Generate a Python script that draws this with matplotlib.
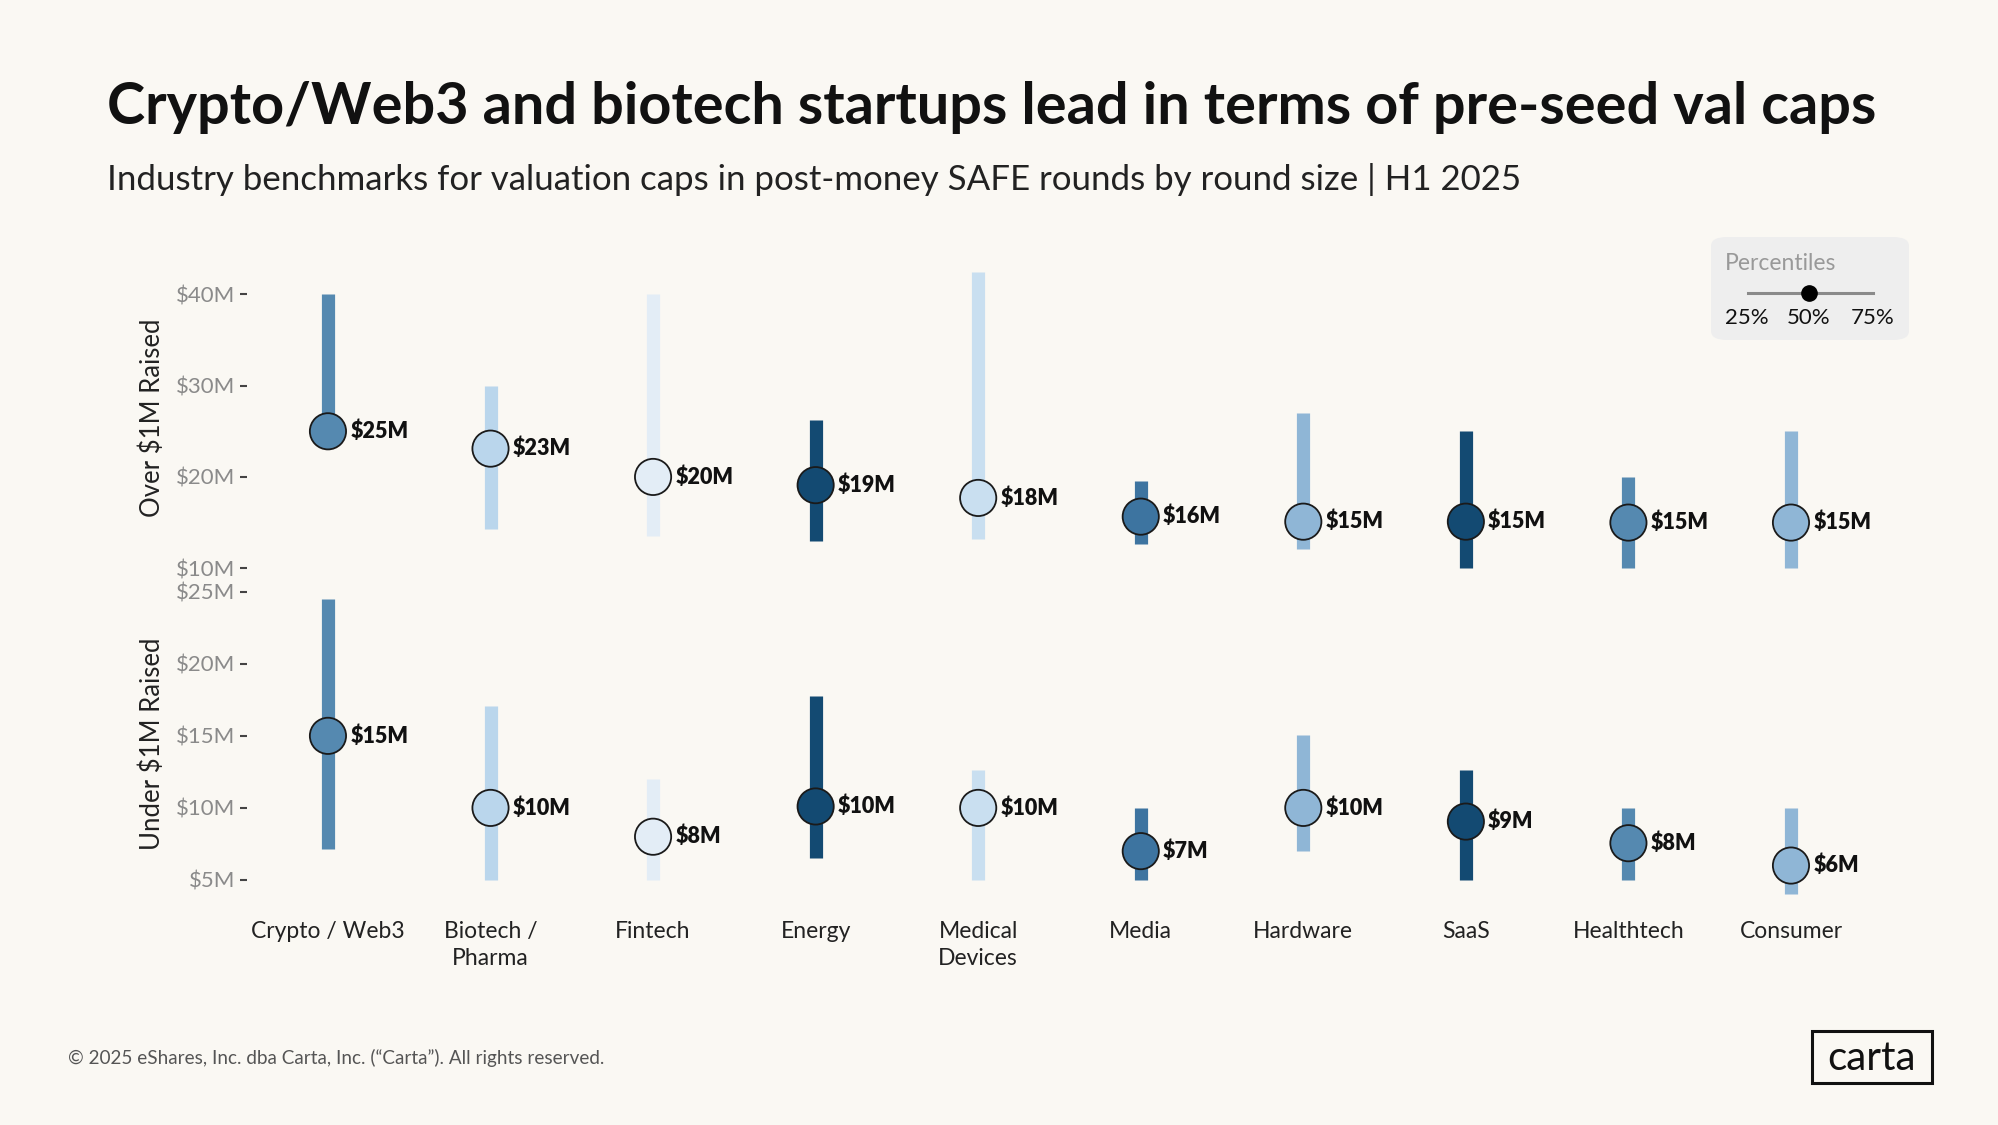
import matplotlib
matplotlib.use("Agg")
import matplotlib.pyplot as plt
from matplotlib.patches import FancyBboxPatch, Rectangle

# данные (в миллионах $): 25-й, 50-й, 75-й перцентили
industries = ["Crypto / Web3", "Biotech /\nPharma", "Fintech", "Energy", "Medical\nDevices",
              "Media", "Hardware", "SaaS", "Healthtech", "Consumer"]

over_p25 = [25, 14.3, 13.5, 13.0, 13.2, 12.6, 12.1, 10, 10, 10]
over_p50 = [25, 23.1, 20, 19.1, 17.7, 15.65, 15.1, 15.1, 15, 15]
over_p75 = [40, 30, 40, 26.2, 42.5, 19.6, 27.0, 25, 20, 25]

under_p25 = [7.15, 5, 5, 6.55, 5, 5, 7.0, 5, 5, 4.0]
under_p50 = [15, 10, 8, 10.1, 10, 7.0, 10, 9.05, 7.55, 6.0]
under_p75 = [24.5, 17.1, 12, 17.8, 12.6, 10, 15.07, 12.6, 10, 10]

colors = ["#5589b0", "#bad6ec", "#e3edf6", "#134a72", "#c9dff0",
          "#3d74a0", "#8fb6d6", "#134a72", "#5589b0", "#8fb6d6"]

bg = "#faf8f3"
plt.rcParams["font.family"] = ["Lato", "DejaVu Sans"]

fig = plt.figure(figsize=(19.99, 11.25), dpi=100, facecolor=bg)

ax_top = fig.add_axes([0.1234, 0.4868, 0.8132, 0.2840])
ax_bot = fig.add_axes([0.1234, 0.1986, 0.8132, 0.2818])


def draw_panel(ax, p25, p50, p75, ylim, yticks):
    ax.set_facecolor(bg)
    x = list(range(len(industries)))
    ax.vlines(x, p25, p75, colors=colors, linewidth=9.5, capstyle="butt", zorder=2)
    ax.scatter(x, p50, s=680, c=colors, edgecolors="#1a1a1a", linewidths=1.3, zorder=3)
    for xi, v in zip(x, p50):
        ax.annotate(f"${round(v)}M", (xi, v), xytext=(16, 0), textcoords="offset points",
                    va="center", ha="left", fontsize=15.5, fontweight="heavy", color="#111111")
    ax.set_xlim(-0.5, len(industries) - 0.5)
    ax.set_ylim(*ylim)
    ax.set_yticks(yticks)
    ax.set_yticklabels([f"${t}M" for t in yticks])
    ax.tick_params(axis="y", length=5, width=1.5, color="#444444", labelcolor="#8a8a8a",
                   labelsize=16, pad=3)
    for s in ax.spines.values():
        s.set_visible(False)


draw_panel(ax_top, over_p25, over_p50, over_p75, (9, 44), [10, 20, 30, 40])
draw_panel(ax_bot, under_p25, under_p50, under_p75, (3.5, 25.5), [5, 10, 15, 20, 25])

ax_top.set_xticks([])
ax_bot.set_xticks(range(len(industries)))
ax_bot.set_xticklabels(industries, fontsize=16.5, color="#222222", linespacing=1.35)
ax_bot.tick_params(axis="x", length=0, pad=14)

fig.text(152 / 1999, 1 - 418 / 1125, "Over $1M Raised", rotation=90, ha="center", va="center",
         fontsize=18.5, color="#222222")
fig.text(152 / 1999, 1 - 744 / 1125, "Under $1M Raised", rotation=90, ha="center", va="center",
         fontsize=18.5, color="#222222")

# заголовки
fig.text(107 / 1999, 1 - 124 / 1125,
         "Crypto/Web3 and biotech startups lead in terms of pre-seed val caps",
         fontsize=41.5, fontweight="bold", color="#111111", va="baseline")
fig.text(107 / 1999, 1 - 190 / 1125,
         "Industry benchmarks for valuation caps in post-money SAFE rounds by round size | H1 2025",
         fontsize=25.1, color="#222222", va="baseline")

# легенда перцентилей
fig.patches.append(FancyBboxPatch((1711 / 1999, 1 - 340 / 1125), 198 / 1999, 103 / 1125,
                                  boxstyle="round,pad=0,rounding_size=0.008",
                                  transform=fig.transFigure, facecolor="#eeeeee",
                                  edgecolor="none", zorder=1))
fig.text(1725 / 1999, 1 - 263 / 1125, "Percentiles", fontsize=16.5, color="#999999", va="center")
fig.add_artist(plt.Line2D([1748 / 1999, 1873 / 1999], [1 - 293 / 1125] * 2,
                          transform=fig.transFigure, color="#8a8a8a", linewidth=2.2))
fig.add_artist(plt.Line2D([1809 / 1999], [1 - 293 / 1125], transform=fig.transFigure,
                          marker="o", markersize=11, color="#000000"))
for px, lab in zip([1747, 1809, 1873], ["25%", "50%", "75%"]):
    fig.text(px / 1999, 1 - 318 / 1125, lab, fontsize=16, color="#111111", ha="center", va="center")

# подвал
fig.text(68 / 1999, 1 - 1058 / 1125,
         "© 2025 eShares, Inc. dba Carta, Inc. (“Carta”). All rights reserved.",
         fontsize=13.6, color="#555555", va="center")
fig.patches.append(Rectangle((1812 / 1999, 1 - 1083 / 1125), 120 / 1999, 52 / 1125,
                             transform=fig.transFigure, facecolor="none",
                             edgecolor="#111111", linewidth=2.2))
fig.text(1872 / 1999, 1 - 1058 / 1125, "carta", fontsize=29, color="#111111",
         ha="center", va="center")

fig.savefig("out.png", dpi=100, facecolor=bg)
